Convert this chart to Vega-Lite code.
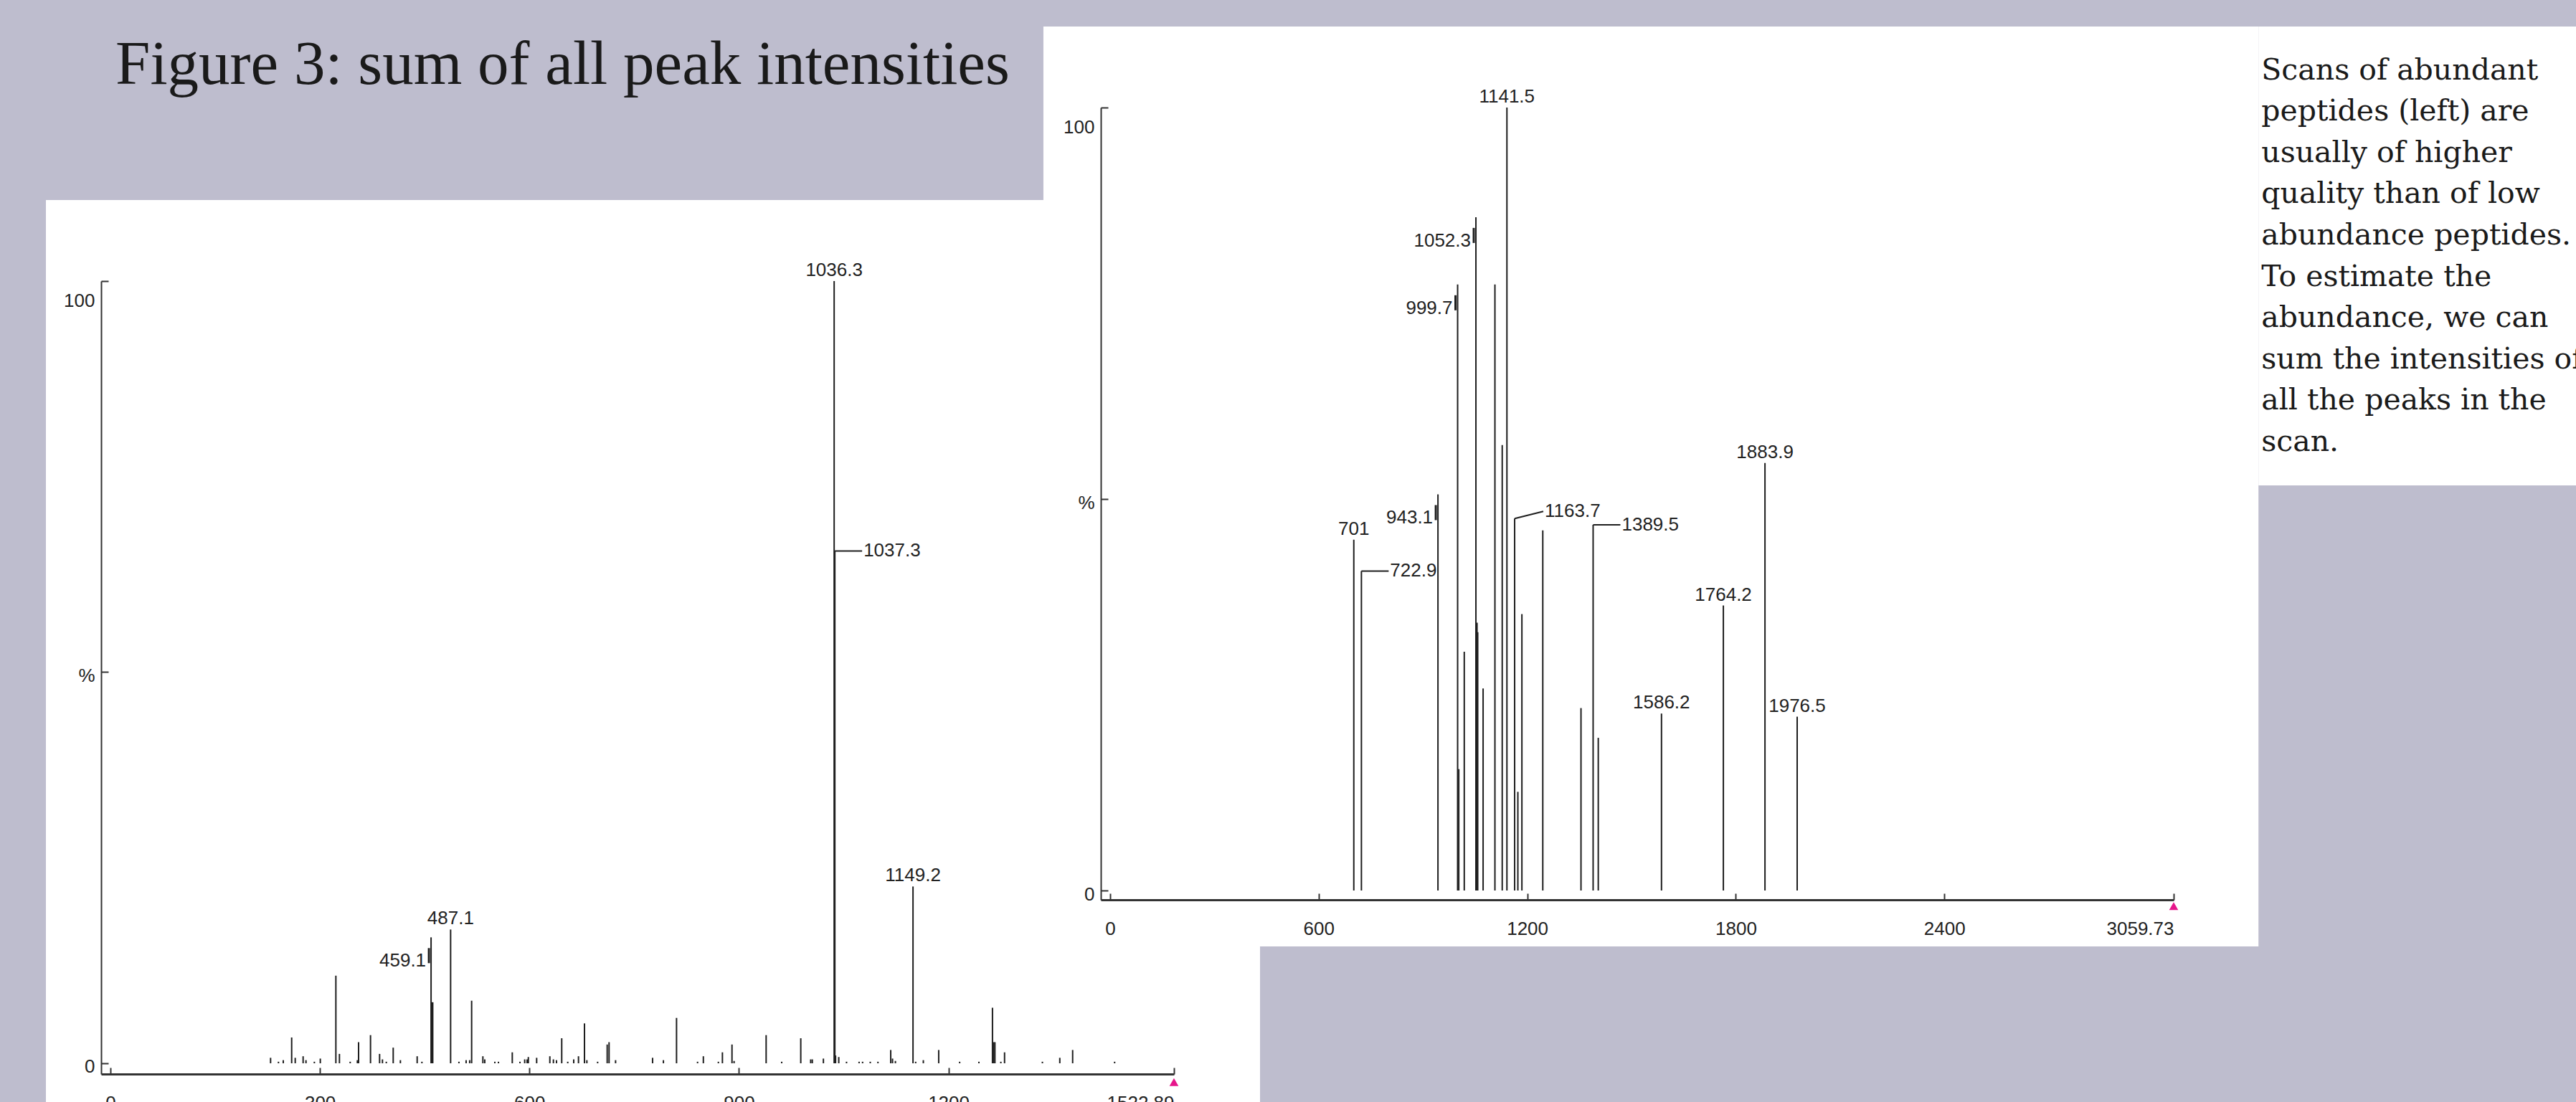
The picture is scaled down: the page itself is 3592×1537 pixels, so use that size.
{
  "$schema": "https://vega.github.io/schema/vega-lite/v6.json",
  "width": 3592,
  "height": 1537,
  "autosize": {"type": "none"},
  "padding": 0,
  "background": "#bebdce",
  "config": {
    "view": {"stroke": null, "fill": null},
    "axis": {"labelFont": "Liberation Sans", "labelFontSize": 26, "labelColor": "#222222", "domainColor": "#333333", "tickColor": "#333333", "grid": false},
    "text": {"font": "Liberation Sans", "fontSize": 26, "color": "#222222"}
  },
  "title": {
    "text": "Figure 3: sum of all peak intensities",
    "anchor": "start",
    "frame": "group",
    "orient": "top",
    "offset": 0,
    "dx": 161,
    "dy": 204,
    "baseline": "alphabetic",
    "font": "Liberation Serif",
    "fontSize": 87,
    "fontWeight": "normal",
    "color": "#1a1a1a"
  },
  "resolve": {"scale": {"x": "independent", "y": "independent"}, "axis": {"x": "independent", "y": "independent"}},
  "layer": [
    {
      "data": {"values": [
        {"mz": 229.3, "intensity": 0.7}, {"mz": 240.6, "intensity": 0.2}, {"mz": 247.5, "intensity": 0.4},
        {"mz": 259.5, "intensity": 3.3}, {"mz": 264.6, "intensity": 0.7}, {"mz": 275.9, "intensity": 0.9},
        {"mz": 280.0, "intensity": 0.4}, {"mz": 292.0, "intensity": 0.2}, {"mz": 300.5, "intensity": 0.6},
        {"mz": 322.8, "intensity": 11.2}, {"mz": 327.9, "intensity": 1.2}, {"mz": 343.3, "intensity": 0.2},
        {"mz": 353.6, "intensity": 0.4}, {"mz": 355.3, "intensity": 2.7}, {"mz": 372.4, "intensity": 3.6},
        {"mz": 385.4, "intensity": 1.2}, {"mz": 389.5, "intensity": 0.5}, {"mz": 395.0, "intensity": 0.2},
        {"mz": 404.9, "intensity": 2.0}, {"mz": 415.2, "intensity": 0.4}, {"mz": 439.2, "intensity": 0.9},
        {"mz": 446.0, "intensity": 0.2}, {"mz": 459.1, "intensity": 16.1, "label": "459.1"},
        {"mz": 460.5, "intensity": 7.8}, {"mz": 461.5, "intensity": 7.8}, {"mz": 487.1, "intensity": 17.1, "label": "487.1"},
        {"mz": 499.0, "intensity": 0.2}, {"mz": 509.3, "intensity": 0.4}, {"mz": 514.4, "intensity": 0.4},
        {"mz": 517.2, "intensity": 8.0}, {"mz": 533.3, "intensity": 0.9}, {"mz": 536.0, "intensity": 0.5},
        {"mz": 550.4, "intensity": 0.2}, {"mz": 555.6, "intensity": 0.2}, {"mz": 575.4, "intensity": 1.4},
        {"mz": 586.4, "intensity": 0.2}, {"mz": 593.2, "intensity": 0.5}, {"mz": 596.6, "intensity": 0.5},
        {"mz": 598.4, "intensity": 0.8}, {"mz": 610.3, "intensity": 0.7}, {"mz": 629.2, "intensity": 0.9},
        {"mz": 634.3, "intensity": 0.5}, {"mz": 638.7, "intensity": 0.4}, {"mz": 646.2, "intensity": 3.2},
        {"mz": 654.8, "intensity": 0.2}, {"mz": 663.4, "intensity": 0.5}, {"mz": 670.2, "intensity": 0.9},
        {"mz": 678.8, "intensity": 5.1}, {"mz": 682.2, "intensity": 0.4}, {"mz": 697.6, "intensity": 0.2},
        {"mz": 711.3, "intensity": 2.4}, {"mz": 714.0, "intensity": 2.7}, {"mz": 723.3, "intensity": 0.4},
        {"mz": 776.3, "intensity": 0.7}, {"mz": 791.8, "intensity": 0.4}, {"mz": 810.6, "intensity": 5.8},
        {"mz": 840.7, "intensity": 0.2}, {"mz": 849.0, "intensity": 0.9}, {"mz": 870.5, "intensity": 0.2},
        {"mz": 876.3, "intensity": 1.4}, {"mz": 890.0, "intensity": 2.4}, {"mz": 893.0, "intensity": 0.3},
        {"mz": 938.9, "intensity": 3.6}, {"mz": 961.2, "intensity": 0.2}, {"mz": 988.5, "intensity": 3.2},
        {"mz": 1002.7, "intensity": 0.5}, {"mz": 1005.0, "intensity": 0.5}, {"mz": 1020.9, "intensity": 0.6},
        {"mz": 1036.3, "intensity": 100, "label": "1036.3"}, {"mz": 1037.3, "intensity": 65.5, "label": "1037.3"},
        {"mz": 1038.3, "intensity": 1.0}, {"mz": 1042.9, "intensity": 0.8}, {"mz": 1054.0, "intensity": 0.2},
        {"mz": 1072.0, "intensity": 0.2}, {"mz": 1077.0, "intensity": 0.2}, {"mz": 1088.0, "intensity": 0.2},
        {"mz": 1099.0, "intensity": 0.2}, {"mz": 1117.3, "intensity": 1.7}, {"mz": 1119.9, "intensity": 0.6},
        {"mz": 1124.0, "intensity": 0.3}, {"mz": 1149.2, "intensity": 22.6, "label": "1149.2"},
        {"mz": 1153.0, "intensity": 0.2}, {"mz": 1164.0, "intensity": 0.4}, {"mz": 1186.0, "intensity": 1.7},
        {"mz": 1216.0, "intensity": 0.2}, {"mz": 1243.6, "intensity": 0.2}, {"mz": 1263.0, "intensity": 7.1},
        {"mz": 1264.8, "intensity": 2.7}, {"mz": 1266.5, "intensity": 2.7}, {"mz": 1275.0, "intensity": 0.2},
        {"mz": 1280.3, "intensity": 1.4}, {"mz": 1334.5, "intensity": 0.2}, {"mz": 1359.4, "intensity": 0.7},
        {"mz": 1377.8, "intensity": 1.7}, {"mz": 1437.9, "intensity": 0.2}
      ]},
      "layer": [
        {
          "transform": [{"aggregate": [{"op": "count", "as": "n"}]}],
          "mark": {"type": "rect", "fill": "#ffffff", "opacity": 1},
          "encoding": {"x": {"datum": -92.4, "type": "quantitative"}, "x2": {"datum": 1646.1}, "y": {"datum": 110.36, "type": "quantitative"}, "y2": {"datum": -6}}
        },
        {
          "mark": {"type": "rule", "color": "#1e1e1e", "strokeWidth": 2},
          "encoding": {
            "x": {
              "field": "mz", "type": "quantitative",
              "scale": {"domain": [-13.35, 1522.89], "range": [141, 1637], "nice": false, "zero": false},
              "axis": {"orient": "bottom", "zindex": 1, "offset": -39, "values": [0, 300, 600, 900, 1200, 1522.89], "labelExpr": "'' + datum.value", "tickSize": -9, "tickWidth": 2, "labelPadding": 36, "domainWidth": 3, "title": null}
            },
            "y": {
              "field": "intensity", "type": "quantitative",
              "scale": {"domain": [-1.375, 100], "range": [1498, 392], "nice": false, "zero": false},
              "axis": {"orient": "left", "zindex": 1, "offset": -141, "values": [0, 50, 100], "labelExpr": "datum.value == 50 ? '%' : '' + datum.value", "tickSize": -10, "tickWidth": 2, "labelPadding": 19, "domainWidth": 2, "labelOffset": {"condition": {"test": "datum.value == 100", "value": 27}, "value": 5}, "title": null}
            },
            "y2": {"datum": 0}
          }
        },
        {
          "transform": [{"filter": {"field": "label", "oneOf": ["1036.3", "1149.2", "487.1"]}}],
          "mark": {"type": "text", "align": "center", "baseline": "alphabetic", "dy": -7},
          "encoding": {"x": {"field": "mz", "type": "quantitative"}, "y": {"field": "intensity", "type": "quantitative"}, "text": {"field": "label"}}
        },
        {
          "transform": [{"filter": {"field": "label", "oneOf": ["459.1"]}}],
          "mark": {"type": "rule", "color": "#1e1e1e", "strokeWidth": 3, "xOffset": -3, "yOffset": 15, "y2Offset": 36},
          "encoding": {"x": {"field": "mz", "type": "quantitative"}, "y": {"field": "intensity", "type": "quantitative"}, "y2": {"field": "intensity"}}
        },
        {
          "transform": [{"filter": {"field": "label", "oneOf": ["459.1"]}}],
          "mark": {"type": "text", "align": "right", "baseline": "middle", "dx": -7, "dy": 33},
          "encoding": {"x": {"field": "mz", "type": "quantitative"}, "y": {"field": "intensity", "type": "quantitative"}, "text": {"field": "label"}}
        },
        {
          "transform": [{"filter": {"field": "label", "oneOf": ["1037.3"]}}],
          "mark": {"type": "rule", "color": "#1e1e1e", "strokeWidth": 2, "x2Offset": 38},
          "encoding": {"x": {"field": "mz", "type": "quantitative"}, "y": {"field": "intensity", "type": "quantitative"}, "x2": {"field": "mz"}, "y2": {"field": "intensity"}}
        },
        {
          "transform": [{"filter": {"field": "label", "oneOf": ["1037.3"]}}],
          "mark": {"type": "text", "align": "left", "baseline": "middle", "dx": 40},
          "encoding": {"x": {"field": "mz", "type": "quantitative"}, "y": {"field": "intensity", "type": "quantitative"}, "text": {"field": "label"}}
        },
        {
          "transform": [{"aggregate": [{"op": "count", "as": "n"}]}],
          "mark": {"type": "point", "shape": "triangle-up", "filled": true, "color": "#e6168b", "opacity": 1, "size": 160},
          "encoding": {"x": {"datum": 1522.89, "type": "quantitative"}, "y": {"datum": -2.4, "type": "quantitative"}}
        }
      ]
    },
    {
      "data": {"values": [
        {"mz": 701, "intensity": 44.8, "label": "701"},
        {"mz": 722.9, "intensity": 40.8, "label": "722.9"},
        {"mz": 943.1, "intensity": 50.6, "label": "943.1"},
        {"mz": 999.7, "intensity": 77.4, "label": "999.7"},
        {"mz": 1003.0, "intensity": 15.5},
        {"mz": 1018.8, "intensity": 30.5},
        {"mz": 1052.3, "intensity": 86.0, "label": "1052.3"},
        {"mz": 1055.5, "intensity": 34.2},
        {"mz": 1057.5, "intensity": 33.0},
        {"mz": 1073.0, "intensity": 25.8},
        {"mz": 1107.0, "intensity": 77.4},
        {"mz": 1128.0, "intensity": 56.9},
        {"mz": 1141.5, "intensity": 100, "label": "1141.5"},
        {"mz": 1163.7, "intensity": 47.5, "label": "1163.7"},
        {"mz": 1173.0, "intensity": 12.6},
        {"mz": 1184.6, "intensity": 35.3},
        {"mz": 1244.7, "intensity": 46.0},
        {"mz": 1354.6, "intensity": 23.3},
        {"mz": 1389.5, "intensity": 46.7, "label": "1389.5"},
        {"mz": 1404.3, "intensity": 19.5},
        {"mz": 1586.2, "intensity": 22.6, "label": "1586.2"},
        {"mz": 1764.2, "intensity": 36.4, "label": "1764.2"},
        {"mz": 1883.9, "intensity": 54.6, "label": "1883.9"},
        {"mz": 1976.5, "intensity": 22.2, "label": "1976.5"}
      ]},
      "layer": [
        {
          "transform": [{"aggregate": [{"op": "count", "as": "n"}]}],
          "mark": {"type": "rect", "fill": "#ffffff", "opacity": 1},
          "encoding": {"x": {"datum": -192, "type": "quantitative"}, "x2": {"datum": 3303.7}, "y": {"datum": 110.35, "type": "quantitative"}, "y2": {"datum": -7.14}}
        },
        {
          "transform": [{"aggregate": [{"op": "count", "as": "n"}]}],
          "mark": {"type": "rect", "fill": "#ffffff", "opacity": 1},
          "encoding": {"x": {"datum": 3303.7, "type": "quantitative"}, "x2": {"datum": 4400}, "y": {"datum": 110.35, "type": "quantitative"}, "y2": {"datum": 51.74}}
        },
        {
          "mark": {"type": "rule", "color": "#1e1e1e", "strokeWidth": 2},
          "encoding": {
            "x": {
              "field": "mz", "type": "quantitative",
              "scale": {"domain": [-26.8, 3059.73], "range": [1535, 3031], "nice": false, "zero": false},
              "axis": {"orient": "bottom", "zindex": 1, "offset": -282, "values": [0, 600, 1200, 1800, 2400, 3059.73], "labelExpr": "'' + datum.value", "tickSize": -9, "tickWidth": 2, "labelPadding": 36, "domainWidth": 3, "title": null}
            },
            "y": {
              "field": "intensity", "type": "quantitative",
              "scale": {"domain": [-1.19, 100], "range": [1255, 150], "nice": false, "zero": false},
              "axis": {"orient": "left", "zindex": 1, "offset": -1535, "values": [0, 50, 100], "labelExpr": "datum.value == 50 ? '%' : '' + datum.value", "tickSize": -10, "tickWidth": 2, "labelPadding": 19, "domainWidth": 2, "labelOffset": {"condition": {"test": "datum.value == 100", "value": 27}, "value": 5}, "title": null}
            },
            "y2": {"datum": 0}
          }
        },
        {
          "transform": [{"filter": {"field": "label", "oneOf": ["1141.5", "701", "1586.2", "1764.2", "1883.9", "1976.5"]}}],
          "mark": {"type": "text", "align": "center", "baseline": "alphabetic", "dy": -7},
          "encoding": {"x": {"field": "mz", "type": "quantitative"}, "y": {"field": "intensity", "type": "quantitative"}, "text": {"field": "label"}}
        },
        {
          "transform": [{"filter": {"field": "label", "oneOf": ["1052.3", "999.7", "943.1"]}}],
          "mark": {"type": "rule", "color": "#1e1e1e", "strokeWidth": 3, "xOffset": -3, "yOffset": 15, "y2Offset": 36},
          "encoding": {"x": {"field": "mz", "type": "quantitative"}, "y": {"field": "intensity", "type": "quantitative"}, "y2": {"field": "intensity"}}
        },
        {
          "transform": [{"filter": {"field": "label", "oneOf": ["1052.3", "999.7", "943.1"]}}],
          "mark": {"type": "text", "align": "right", "baseline": "middle", "dx": -7, "dy": 33},
          "encoding": {"x": {"field": "mz", "type": "quantitative"}, "y": {"field": "intensity", "type": "quantitative"}, "text": {"field": "label"}}
        },
        {
          "transform": [{"filter": {"field": "label", "oneOf": ["722.9", "1389.5"]}}],
          "mark": {"type": "rule", "color": "#1e1e1e", "strokeWidth": 2, "x2Offset": 38},
          "encoding": {"x": {"field": "mz", "type": "quantitative"}, "y": {"field": "intensity", "type": "quantitative"}, "x2": {"field": "mz"}, "y2": {"field": "intensity"}}
        },
        {
          "transform": [{"filter": {"field": "label", "oneOf": ["1163.7"]}}],
          "mark": {"type": "rule", "color": "#1e1e1e", "strokeWidth": 2, "x2Offset": 40, "y2Offset": -10},
          "encoding": {"x": {"field": "mz", "type": "quantitative"}, "y": {"field": "intensity", "type": "quantitative"}, "x2": {"field": "mz"}, "y2": {"field": "intensity"}}
        },
        {
          "transform": [{"filter": {"field": "label", "oneOf": ["722.9", "1389.5"]}}],
          "mark": {"type": "text", "align": "left", "baseline": "middle", "dx": 40},
          "encoding": {"x": {"field": "mz", "type": "quantitative"}, "y": {"field": "intensity", "type": "quantitative"}, "text": {"field": "label"}}
        },
        {
          "transform": [{"filter": {"field": "label", "oneOf": ["1163.7"]}}],
          "mark": {"type": "text", "align": "left", "baseline": "middle", "dx": 42, "dy": -10},
          "encoding": {"x": {"field": "mz", "type": "quantitative"}, "y": {"field": "intensity", "type": "quantitative"}, "text": {"field": "label"}}
        },
        {
          "transform": [{"aggregate": [{"op": "count", "as": "n"}]}],
          "mark": {"type": "point", "shape": "triangle-up", "filled": true, "color": "#e6168b", "opacity": 1, "size": 160},
          "encoding": {"x": {"datum": 3059.73, "type": "quantitative"}, "y": {"datum": -2.0, "type": "quantitative"}}
        },
        {
          "transform": [{"aggregate": [{"op": "count", "as": "n"}]}],
          "mark": {
            "type": "text",
            "text": ["Scans of abundant", "peptides (left) are", "usually of higher", "quality than of low", "abundance peptides.", "To estimate the", "abundance, we can", "sum the intensities of", "all the peaks in the", "scan."],
            "align": "left", "baseline": "alphabetic", "font": "DejaVu Serif", "fontSize": 41, "lineHeight": 57.6, "color": "#1a1a1a"
          },
          "encoding": {"x": {"datum": 3312, "type": "quantitative"}, "y": {"datum": 103.6, "type": "quantitative"}}
        }
      ]
    }
  ]
}
